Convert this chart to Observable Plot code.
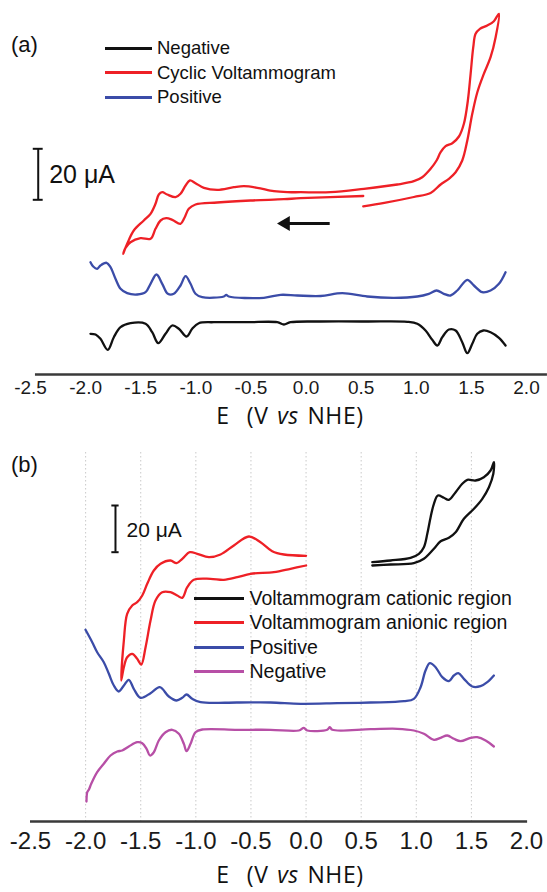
<!DOCTYPE html>
<html><head><meta charset="utf-8">
<script src="https://cdn.jsdelivr.net/npm/d3@7"></script>
<script src="https://cdn.jsdelivr.net/npm/@observablehq/plot@0.6"></script>
<style>
html,body{margin:0;padding:0;background:#fff;}
#fig{position:relative;width:547px;height:892px;overflow:hidden;font-family:"Liberation Sans",Arial,sans-serif;color:#111;background:#fff;}
#fig svg{position:absolute;left:0;overflow:visible;}
.t{position:absolute;white-space:nowrap;line-height:1;}
</style></head><body><div id="fig"></div><script>
// ---------- data (E in V vs NHE, current in arbitrary offset units) ----------
const xTicks = [-2.5, -2.0, -1.5, -1.0, -0.5, 0.0, 0.5, 1.0, 1.5, 2.0];
const gridTicksB = [-2.0, -1.5, -1.0, -0.5, 0.0, 0.5, 1.0, 1.5];
const legendA = ["Negative", "Cyclic Voltammogram", "Positive"];
const legendB = ["Voltammogram cationic region", "Voltammogram anionic region", "Positive", "Negative"];

const aCV = [[0.519,168.1],[0.710,171.6],[0.978,177.5],[1.130,181.5],[1.221,190],[1.296,195.7],[1.357,202.3],[1.417,214],[1.463,234],[1.508,260.7],[1.554,282.3],[1.613,300.7],[1.674,317.3],[1.720,337.3],[1.750,360.7],[1.704,353.3],[1.644,349],[1.577,345.7],[1.538,340.7],[1.517,327.3],[1.493,300.7],[1.468,274],[1.432,250.7],[1.387,238],[1.327,231.3],[1.266,228.3],[1.221,222.3],[1.184,214],[1.130,205.7],[1.054,197.3],[0.978,193.3],[0.828,190],[0.525,185.7],[0.222,182.3],[-0.050,182.3],[-0.171,182.3],[-0.292,183.3],[-0.443,186.7],[-0.564,188.3],[-0.655,187.3],[-0.806,184.7],[-0.927,186.7],[-1.003,191.3],[-1.054,194],[-1.093,189],[-1.139,180.7],[-1.184,177.3],[-1.260,180],[-1.305,182.3],[-1.336,180],[-1.366,170.7],[-1.411,160.7],[-1.472,154],[-1.563,144],[-1.623,130.7],[-1.659,120.7],[-1.638,126.7],[-1.593,132.3],[-1.502,136.3],[-1.411,135.7],[-1.366,145.7],[-1.320,154],[-1.269,156.3],[-1.214,154.7],[-1.139,150.7],[-1.103,156.7],[-1.064,165.7],[-1.003,170],[-0.806,172],[-0.504,174],[-0.201,175.3],[-0.050,176.3],[0.519,178.5]];
const aPositive = [[-1.956,112.3],[-1.931,108],[-1.895,105.7],[-1.865,109],[-1.810,111.7],[-1.774,107.3],[-1.729,95.7],[-1.683,85.7],[-1.623,81.3],[-1.532,80],[-1.456,82.3],[-1.411,90.7],[-1.357,100],[-1.305,90.7],[-1.254,80.7],[-1.200,80.7],[-1.139,89],[-1.093,98.3],[-1.048,90.7],[-1.003,80.7],[-0.942,77.3],[-0.746,78],[-0.724,79.7],[-0.701,78],[-0.383,76.7],[-0.231,79.7],[-0.080,79],[0.132,78.5],[0.329,81.3],[0.555,78],[0.797,76.7],[1.009,78],[1.114,80.7],[1.184,84],[1.250,80.7],[1.311,79],[1.372,84],[1.463,94.7],[1.523,89],[1.599,82.3],[1.674,84],[1.750,90.7],[1.810,102.3]];
const aNegative = [[-1.956,40.7],[-1.910,40],[-1.865,35.7],[-1.799,24.7],[-1.744,37.3],[-1.683,47.3],[-1.593,51.3],[-1.456,50.7],[-1.396,42.3],[-1.341,31.3],[-1.275,40.7],[-1.214,49],[-1.154,45.7],[-1.084,38],[-1.033,45.7],[-0.973,51.3],[-0.837,52.3],[-0.534,52.3],[-0.261,52.3],[-0.201,50],[-0.141,52.3],[0.132,53],[0.555,53],[0.918,52.7],[1.009,50.7],[1.084,44],[1.145,34.7],[1.191,29],[1.236,37.3],[1.296,45],[1.357,44],[1.417,32.3],[1.463,21.3],[1.508,30.7],[1.553,40.7],[1.608,44],[1.674,42.3],[1.750,36.7],[1.810,29]];

const bAnionicCV = [[0.0,265.7],[-0.201,267],[-0.307,270.3],[-0.413,279.3],[-0.519,285],[-0.655,276],[-0.776,267],[-0.882,264.3],[-0.987,267.7],[-1.054,269.3],[-1.123,262.7],[-1.175,258.3],[-1.230,261],[-1.320,257.7],[-1.381,251],[-1.441,237.7],[-1.486,226],[-1.532,219.3],[-1.577,216],[-1.623,207.7],[-1.653,181],[-1.677,141],[-1.653,154.3],[-1.623,164.3],[-1.577,167.7],[-1.532,162.7],[-1.495,157],[-1.456,174.3],[-1.411,201],[-1.366,221],[-1.305,229.3],[-1.230,229.3],[-1.169,226],[-1.123,223.7],[-1.078,234.3],[-1.018,241.7],[-0.867,242.7],[-0.746,241.7],[-0.624,244.3],[-0.504,247.7],[-0.292,249.3],[-0.141,252.7],[0.0,256]];
const bCationicCV = [[0.601,259.3],[0.767,261],[0.948,263.7],[1.024,267.7],[1.069,274.3],[1.100,287.7],[1.130,304.3],[1.160,317.7],[1.196,326],[1.250,323.7],[1.296,321.7],[1.357,329.3],[1.417,337.7],[1.463,341.7],[1.538,341],[1.613,344.3],[1.674,351],[1.704,359.3],[1.699,347.7],[1.659,334.3],[1.599,322.7],[1.523,312.7],[1.432,302.7],[1.357,289.3],[1.296,283.7],[1.221,280.3],[1.160,272.7],[1.069,262.7],[0.978,258.3],[0.767,257],[0.601,256]];
const bPositive = [[-2.001,191.7],[-1.940,179.3],[-1.895,169.3],[-1.835,159.3],[-1.789,147.7],[-1.744,136],[-1.699,130],[-1.653,136],[-1.608,141.7],[-1.563,132.7],[-1.502,123.7],[-1.411,128.3],[-1.327,134.3],[-1.245,125],[-1.175,121],[-1.123,123.7],[-1.084,127],[-1.033,122.7],[-0.957,119.3],[-0.624,119],[-0.322,119],[-0.050,117.7],[0.283,118.3],[0.585,119],[0.888,120.3],[0.978,122.7],[1.039,134.3],[1.084,151],[1.123,158.3],[1.175,154.3],[1.236,144.3],[1.296,140.3],[1.341,146],[1.381,148.3],[1.432,142.7],[1.508,135],[1.583,135.3],[1.644,139.3],[1.704,146]];
const bNegative = [[-1.992,20],[-1.985,29.3],[-1.971,31.7],[-1.949,37.7],[-1.895,49.3],[-1.835,57.7],[-1.774,66],[-1.713,70],[-1.668,71],[-1.608,75],[-1.532,79.3],[-1.486,78.3],[-1.447,72.7],[-1.417,66],[-1.381,69.3],[-1.336,81],[-1.275,89.3],[-1.214,91.7],[-1.154,87.7],[-1.109,77.7],[-1.084,70.3],[-1.048,77.7],[-1.003,89.3],[-0.942,92],[-0.624,91.7],[-0.322,91.7],[-0.065,91],[-0.020,93.7],[0.011,91],[0.192,91.7],[0.216,94.3],[0.238,91.7],[0.585,92.3],[0.828,92.7],[0.978,91],[1.069,87.7],[1.160,81.7],[1.221,83.7],[1.281,86],[1.341,82.7],[1.402,80.3],[1.493,83.7],[1.553,84.3],[1.629,81],[1.704,75]];

// ---------- styling / annotation placement ----------
const C = {black: "#111111", red: "#ee2026", blue: "#3b4ca8", magenta: "#b74fa6", axis: "#3a3a3a", grid: "#c9c9c9"};
const rows = arr => arr.map(([E, I]) => ({E, I}));
const fmt = d => d.toFixed(1);
const lineOpts = (stroke) => ({x: "E", y: "I", stroke, strokeWidth: 2.3, curve: "catmull-rom"});

const scaleA = {x: -2.430, y1: 174.7, y2: 225.7, cap: 0.045, label: "20 \u03bcA", size: 25};
const scaleB = {x: -1.729, y1: 269.3, y2: 316, cap: 0.033, label: "20 \u03bcA", size: 21};
const arrowA = {y: 151, head: -0.231, tail: 0.219};

const fig = document.getElementById("fig");

function scaleBarMarks(s) {
  return [
    Plot.ruleX([s.x], {y1: s.y1, y2: s.y2, stroke: C.black, strokeWidth: 2}),
    Plot.ruleY([s.y1, s.y2], {x1: s.x - s.cap, x2: s.x + s.cap, stroke: C.black, strokeWidth: 2}),
    Plot.text([s.label], {x: s.x, y: (s.y1 + s.y2) / 2 - 1, text: d => d, textAnchor: "start", dx: 11, fontSize: s.size, fill: C.black})
  ];
}

// ---------- panel (a) ----------
const plotA = Plot.plot({
  width: 547, height: 440,
  marginLeft: 30, marginRight: 21, marginTop: 0, marginBottom: 66,
  x: {domain: [-2.5, 2.0], ticks: xTicks, tickFormat: fmt, tickSize: 0, tickPadding: 6, label: null},
  y: {domain: [0, 374], axis: null},
  style: {fontFamily: "'Liberation Sans', Arial, sans-serif", fontSize: "19px", color: "#1a1a1a", background: "transparent", overflow: "visible"},
  marks: [
    Plot.ruleY([0], {x1: -2.455, x2: 2.19, stroke: C.axis, strokeWidth: 2.5}),
    Plot.line(rows(aNegative), lineOpts(C.black)),
    Plot.line(rows(aPositive), lineOpts(C.blue)),
    Plot.line(rows(aCV), lineOpts(C.red)),
    ...scaleBarMarks(scaleA),
    Plot.ruleY([arrowA.y], {x1: arrowA.head + 0.07, x2: arrowA.tail, stroke: C.black, strokeWidth: 3}),
    Plot.dot([arrowA], {x: d => d.head + 0.045, y: "y", symbol: "triangle", rotate: -90, r: 5.5, fill: C.black, stroke: "none"})
  ]
});
plotA.style.top = "0px";
fig.appendChild(plotA);

// ---------- panel (b) ----------
const plotB = Plot.plot({
  width: 547, height: 452,
  marginLeft: 30, marginRight: 21, marginTop: 12, marginBottom: 71,
  x: {domain: [-2.5, 2.0], ticks: xTicks, tickFormat: fmt, tickSize: 0, tickPadding: 10, label: null},
  y: {domain: [0, 369], axis: null},
  style: {fontFamily: "'Liberation Sans', Arial, sans-serif", fontSize: "24px", color: "#1a1a1a", background: "transparent", overflow: "visible"},
  marks: [
    Plot.ruleX(gridTicksB, {stroke: C.grid, strokeWidth: 1, strokeDasharray: "1.5,2.5"}),
    Plot.ruleY([0], {x1: -2.5, x2: 2.01, stroke: C.axis, strokeWidth: 2.5}),
    Plot.line(rows(bNegative), lineOpts(C.magenta)),
    Plot.line(rows(bPositive), lineOpts(C.blue)),
    Plot.line(rows(bAnionicCV), lineOpts(C.red)),
    Plot.line(rows(bCationicCV), lineOpts(C.black)),
    ...scaleBarMarks(scaleB)
  ]
});
plotB.style.top = "440px";
fig.appendChild(plotB);

// ---------- html annotations: panel labels, legends, axis titles ----------
function text(html, css) {
  const d = document.createElement("div");
  d.className = "t";
  d.innerHTML = html;
  Object.assign(d.style, css);
  fig.appendChild(d);
  return d;
}
function legend(labels, colors, o) {
  labels.forEach((lab, i) => {
    const cy = o.y0 + i * o.dy;
    const sw = document.createElement("div");
    Object.assign(sw.style, {position: "absolute", left: o.x1 + "px", top: Math.round(cy - 1.5) + "px", width: (o.x2 - o.x1) + "px", height: "3px", background: colors[i]});
    fig.appendChild(sw);
    text(lab, {left: o.tx + "px", top: (cy - 0.49 * o.size) + "px", fontSize: o.size + "px"});
  });
}
text("(a)", {left: "11px", top: (45 - 0.5 * 22) + "px", fontSize: "22px"});
text("(b)", {left: "11px", top: (465 - 0.5 * 22) + "px", fontSize: "22px"});
legend(legendA, [C.black, C.red, C.blue], {x1: 105, x2: 152, tx: 157, y0: 48, dy: 24.6, size: 18.5});
legend(legendB, [C.black, C.red, C.blue, C.magenta], {x1: 194, x2: 244, tx: 249.5, y0: 598.5, dy: 24.4, size: 19.5});
const titleCss = {fontFamily: "'Open Sans', sans-serif", fontSize: "23px", letterSpacing: "0.6px", wordSpacing: "2px", transform: "translateX(-50%)", left: "290px"};
text("E&nbsp;&nbsp;(V <i>vs</i> NHE)", Object.assign({}, titleCss, {top: (416 - 0.531 * 23) + "px"}));
text("E&nbsp;&nbsp;(V <i>vs</i> NHE)", Object.assign({}, titleCss, {top: (875 - 0.531 * 23) + "px"}));
</script></body></html>
